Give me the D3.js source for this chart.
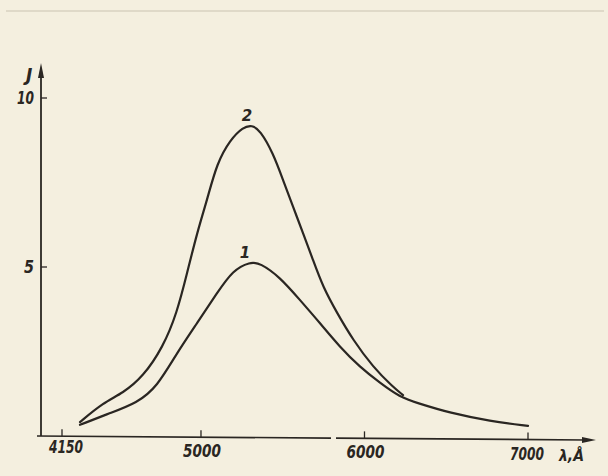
<!DOCTYPE html>
<html>
<head>
<meta charset="utf-8">
<script src="https://cdn.jsdelivr.net/npm/d3@7"></script>
<style>
  html, body { margin: 0; padding: 0; background: #f4efdf; }
  text { font-family: "DejaVu Sans", sans-serif; font-weight: bold; font-style: italic; fill: #2a2622; }
</style>
</head>
<body>
<div id="chart"></div>
<script>
// wavelength (Å) and intensity J for curve 1 and 2
const lambda1 = [4260, 4444, 4609, 4731, 4853, 4976, 5098, 5196, 5300, 5361, 5483, 5606, 5728, 5850, 5972, 6095, 6217, 6321, 6523, 6768, 7000];
const J1      = [0.33, 0.68, 0.98, 1.45, 2.46, 3.34, 4.23, 4.91, 5.15, 5.12, 4.70, 4.02, 3.34, 2.63, 2.04, 1.57, 1.15, 0.98, 0.68, 0.44, 0.30];

const lambda2 = [4260, 4401, 4523, 4645, 4768, 4853, 4915, 4976, 5037, 5098, 5178, 5257, 5312, 5361, 5441, 5502, 5563, 5624, 5685, 5746, 5832, 5930, 6052, 6174, 6236];
const J2      = [0.41, 0.98, 1.27, 1.75, 2.63, 3.64, 4.82, 6.01, 6.98, 8.08, 8.76, 9.14, 9.20, 9.05, 8.37, 7.57, 6.78, 6.01, 5.21, 4.41, 3.64, 2.84, 2.04, 1.45, 1.21];

const xTicks = [4150, 5000, 6000, 7000];
const yTicks = [5, 10];
const curveLabels = ["1", "2"];

const W = 608, H = 476;
const ink = "#2a2622";

const svg = d3.select("#chart")
              .append("svg")
              .attr("width", W)
              .attr("height", H);

const x = d3.scaleLinear().domain([4150, 7000]).range([62, 528]);
const y = d3.scaleLinear().domain([0, 10]).range([436, 98]);

// the x axis on the sheet sags a little to the right
const tilt = px => (px - 37) / 555 * 4;

// faint paper edge at top
svg.append("line")
   .attr("x1", 6).attr("x2", 604).attr("y1", 11).attr("y2", 11)
   .attr("stroke", "#d8d2c0").attr("stroke-width", 1.5);

// y axis
svg.append("line")
   .attr("x1", 41).attr("x2", 41).attr("y1", y(0)).attr("y2", 72)
   .attr("stroke", ink).attr("stroke-width", 1.8);
svg.append("path")
   .attr("d", "M41,63 L38,78 L44,78 Z")
   .attr("fill", ink);

// x axis, drawn with a small break
const xAxisY = y(0);
svg.append("line")
   .attr("x1", 37).attr("x2", 331).attr("y1", xAxisY + tilt(37)).attr("y2", xAxisY + tilt(331))
   .attr("stroke", ink).attr("stroke-width", 1.6);
svg.append("line")
   .attr("x1", 336).attr("x2", 586).attr("y1", xAxisY + tilt(336)).attr("y2", xAxisY + tilt(586))
   .attr("stroke", ink).attr("stroke-width", 1.6);
svg.append("path")
   .attr("d", `M596,${xAxisY + tilt(596)} L582,${xAxisY + tilt(582) - 3} L582,${xAxisY + tilt(582) + 3} Z`)
   .attr("fill", ink);

// x ticks
svg.selectAll(".xtick")
   .data(xTicks)
   .enter()
   .append("line")
   .attr("x1", d => x(d)).attr("x2", d => x(d))
   .attr("y1", d => xAxisY + tilt(x(d)) - 7)
   .attr("y2", d => xAxisY + tilt(x(d)))
   .attr("stroke", ink).attr("stroke-width", 1.3);

svg.selectAll(".xlab")
   .data(xTicks)
   .enter()
   .append("text")
   .attr("x", (d, i) => x(d) + (i == 0 ? -13 : -18))
   .attr("y", (d, i) => xAxisY + tilt(x(d)) + (i == 0 ? 17 : 20))
   .attr("font-size", 17)
   .attr("textLength", (d, i) => i == 0 ? 34 : i == 3 ? 34 : 38)
   .attr("lengthAdjust", "spacingAndGlyphs")
   .text(d => d);

svg.append("text")
   .attr("x", 559).attr("y", xAxisY + 25)
   .attr("font-size", 16)
   .attr("textLength", 25)
   .attr("lengthAdjust", "spacingAndGlyphs")
   .text("λ,Å");

// y ticks
svg.selectAll(".ytick")
   .data(yTicks)
   .enter()
   .append("line")
   .attr("x1", 41).attr("x2", 47)
   .attr("y1", d => y(d)).attr("y2", d => y(d))
   .attr("stroke", ink).attr("stroke-width", 1.3);

svg.selectAll(".ylab")
   .data(yTicks)
   .enter()
   .append("text")
   .attr("x", 34)
   .attr("y", d => y(d) + 6)
   .attr("text-anchor", "end")
   .attr("font-size", 17)
   .attr("textLength", d => d >= 10 ? 17 : 10)
   .attr("lengthAdjust", "spacingAndGlyphs")
   .text(d => d);

svg.append("text")
   .attr("x", 26).attr("y", 81)
   .attr("font-size", 17)
   .text("J");

// curves
const line = d3.line()
               .x(d => x(d[0]))
               .y(d => y(d[1]))
               .curve(d3.curveBasis);

const series = [
  d3.zip(lambda1, J1),
  d3.zip(lambda2, J2)
];

svg.selectAll(".curve")
   .data(series)
   .enter()
   .append("path")
   .attr("d", line)
   .attr("fill", "none")
   .attr("stroke", ink)
   .attr("stroke-width", 2.2)
   .attr("stroke-linecap", "round");

// curve numbers above peaks
svg.selectAll(".clab")
   .data(series)
   .enter()
   .append("text")
   .attr("x", d => x(d3.greatest(d, p => p[1])[0]) - 5)
   .attr("y", d => y(d3.max(d, p => p[1])) - 4)
   .attr("text-anchor", "middle")
   .attr("font-size", 15)
   .text((d, i) => curveLabels[i]);
</script>
</body>
</html>
